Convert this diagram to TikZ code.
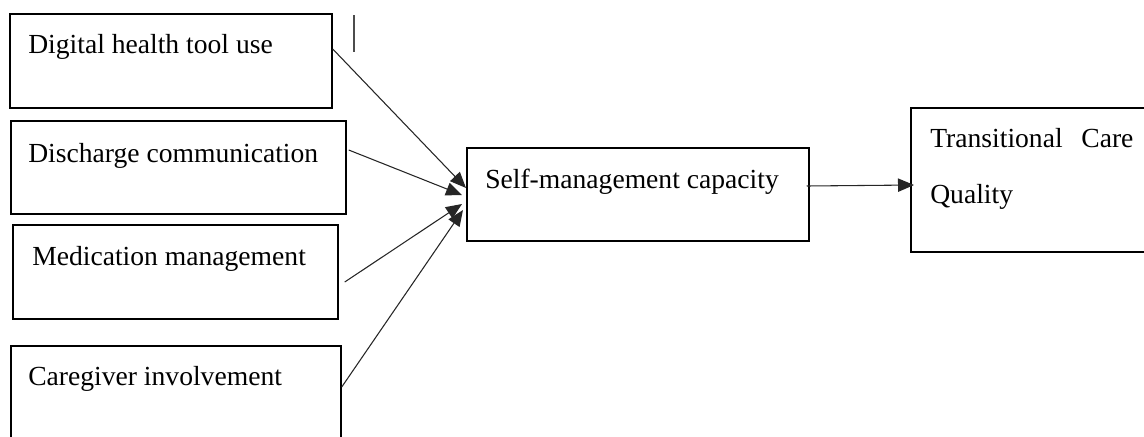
\documentclass[tikz,border=0pt]{standalone}
\usepackage{fontspec}
\setmainfont{Liberation Serif}
\usetikzlibrary{arrows.meta}
\begin{document}
\begin{tikzpicture}[x=0.75pt,y=-0.75pt,
  boxshape/.style={draw=black,line width=1.3pt,rectangle,inner sep=0pt},
  lbl/.style={anchor=base west,inner sep=0pt,font=\fontsize{20.7}{25}\selectfont},
  conn/.style={draw=black!85,line width=0.8pt,-{Triangle[length=12pt,width=10pt]}}]
\clip (0,0) rectangle (1144,436);
\useasboundingbox (0,0) rectangle (1144,436);
% boxes
\node[boxshape,minimum width=322*0.75pt,minimum height=94*0.75pt,anchor=north west] (b1) at (9,13) {};
\node[boxshape,minimum width=335*0.75pt,minimum height=93*0.75pt,anchor=north west] (b2) at (10,120) {};
\node[boxshape,minimum width=325*0.75pt,minimum height=94*0.75pt,anchor=north west] (b3) at (12,224) {};
\node[boxshape,minimum width=330*0.75pt,minimum height=110*0.75pt,anchor=north west] (b4) at (10,345) {};
\node[boxshape,minimum width=342*0.75pt,minimum height=93*0.75pt,anchor=north west] (sm) at (466,147) {};
\node[boxshape,minimum width=250*0.75pt,minimum height=144*0.75pt,anchor=north west] (tc) at (910,107) {};
% texts
\node[lbl] (t1) at (28,53) {Digital health tool use};
\node[lbl] (t2) at (28,162) {Discharge communication};
\node[lbl] (t3) at (32,265) {Medication management};
\node[lbl] (t4) at (28,385) {Caregiver involvement};
\node[lbl] (t5) at (485,188) {Self-management capacity};
\node[lbl] (t6) at (930,147) {Transitional\hspace{14pt}Care};
\node[lbl] (t7) at (930,203) {Quality};
% connectors
\draw[conn] ([yshift=-36*0.75pt]b1.north east) -- ([yshift=-41*0.75pt]sm.north west);
\draw[conn] ([xshift=2*0.75pt,yshift=-30*0.75pt]b2.north east) -- ([xshift=-4*0.75pt,yshift=-48*0.75pt]sm.north west);
\draw[conn] ([xshift=6*0.75pt,yshift=-58*0.75pt]b3.north east) -- ([xshift=-4*0.75pt,yshift=-57*0.75pt]sm.north west);
\draw[conn] ([yshift=-42*0.75pt]b4.north east) -- ([xshift=-3*0.75pt,yshift=-63*0.75pt]sm.north west);
\draw[conn] ([xshift=-3*0.75pt,yshift=-39*0.75pt]sm.north east) -- ([xshift=4*0.75pt,yshift=-78*0.75pt]tc.north west);
% stray mark
\draw[black!70,line width=1pt] (354,15) -- (354,52);
\end{tikzpicture}
\end{document}
